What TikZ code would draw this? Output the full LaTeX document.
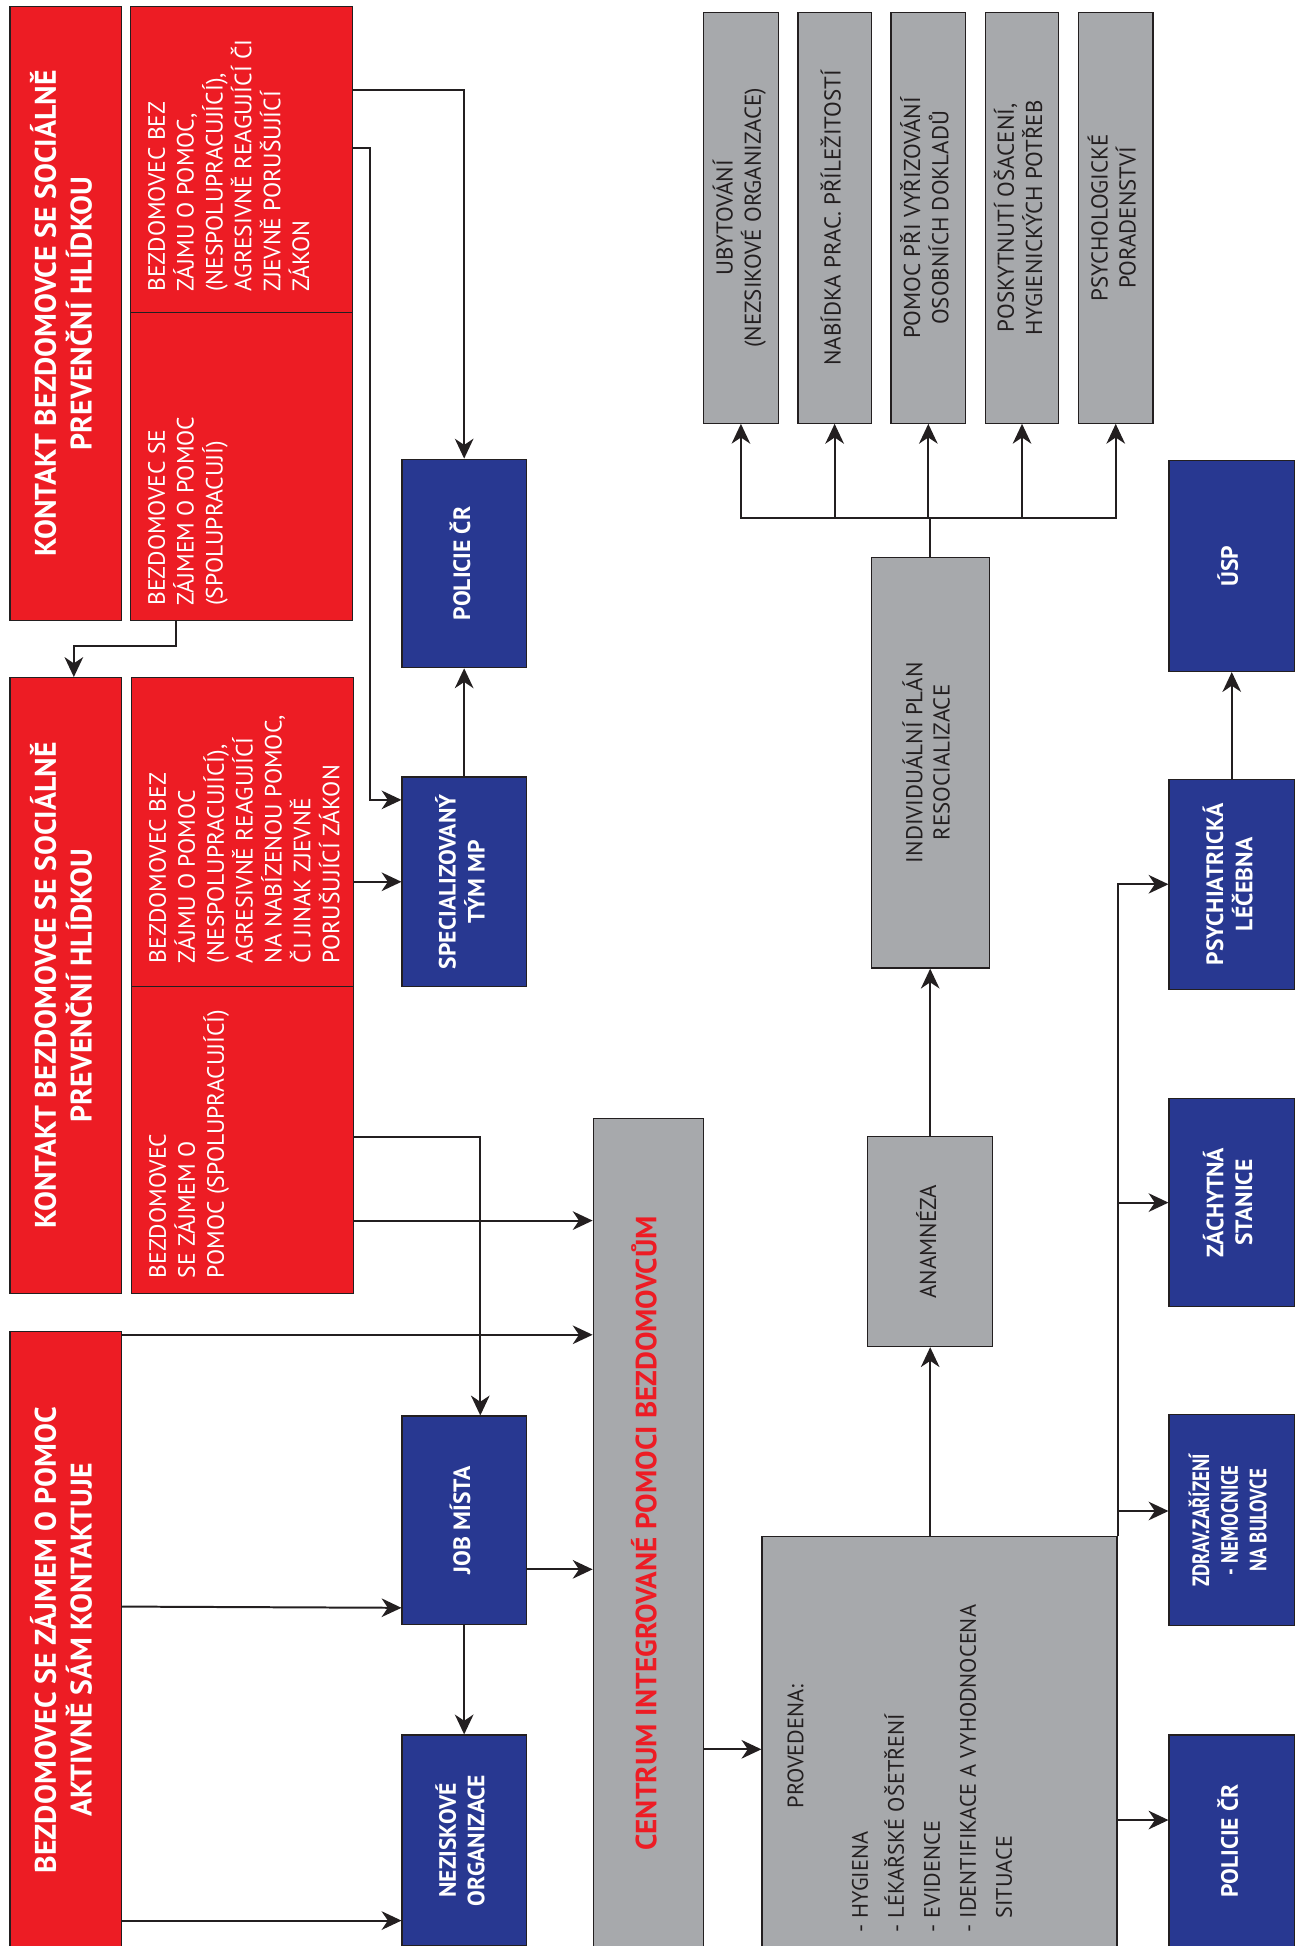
\documentclass[tikz,border=0pt]{standalone}
\usepackage{fontspec}
\setmainfont{PT Sans}
\usepackage{xcolor}
\usepackage{tikz}
\usetikzlibrary{arrows.meta, positioning, calc}

\definecolor{hlred}{HTML}{ED1C24}
\definecolor{mpblue}{HTML}{283891}
\definecolor{boxgrey}{HTML}{A7A9AC}
\definecolor{inkline}{HTML}{231F20}

% text turned to read from bottom to top
\newcommand{\vlines}[1]{\rotatebox{90}{\begin{tabular}{@{}c@{}}#1\end{tabular}}}
\newcommand{\vblock}[3]{\rotatebox{90}{\parbox[c][#2][t]{#1}{\begin{tabular}[t]{@{}l@{}}#3\end{tabular}}}}

\begin{document}
\begin{tikzpicture}[x=1pt, y=-1pt,
    headbox/.style={draw=inkline, line width=1pt, fill=hlred, text=white,
                inner sep=0pt, font=\bfseries\fontsize{24}{26.5}\selectfont},
    casebox/.style={draw=inkline, line width=1pt, fill=hlred, text=white,
                inner sep=0pt, font=\fontsize{19}{22.5}\selectfont},
    unitbox/.style={draw=inkline, line width=1pt, fill=mpblue, text=white,
                inner sep=0pt, font=\bfseries\fontsize{19}{23}\selectfont},
    greybox/.style={draw=inkline, line width=1pt, fill=boxgrey, text=inkline,
                inner sep=0pt, font=\fontsize{18.5}{22}\selectfont},
    arr/.style={-{Stealth[length=16pt, width=15pt, inset=5pt]}, line width=1.6pt, draw=inkline},
    ln/.style={line width=1.6pt, draw=inkline}
  ]
    \useasboundingbox (0,0) rectangle (1044,1568);

    % left column: how the contact starts
    \node[headbox, minimum width=90pt, minimum height=495pt] (a1) at (53,252.5)
      {\vlines{KONTAKT BEZDOMOVCE SE SOCIÁLNĚ\\PREVENČNÍ HLÍDKOU}};
    \node[casebox, minimum width=179pt, minimum height=247pt] (a2up) at (194.5,128.5)
      {\vblock{213pt}{155pt}{BEZDOMOVEC BEZ\\ZÁJMU O POMOC,\\(NESPOLUPRACUJÍCÍ),\\AGRESIVNĚ REAGUJÍCÍ ČI\\ZJEVNĚ PORUŠUJÍCÍ\\ZÁKON}};
    \node[casebox, minimum width=179pt, minimum height=248pt] (a2lo) at (194.5,376)
      {\vblock{224pt}{155pt}{BEZDOMOVEC SE\\ZÁJMEM O POMOC\\(SPOLUPRACUJÍ)}};

    \node[headbox, minimum width=90pt, minimum height=496pt] (b1) at (53,794)
      {\vlines{KONTAKT BEZDOMOVCE SE SOCIÁLNĚ\\PREVENČNÍ HLÍDKOU}};
    \node[casebox, minimum width=179pt, minimum height=249pt] (b2up) at (195.5,670.5)
      {\vblock{211pt}{155pt}{BEZDOMOVEC BEZ\\ZÁJMU O POMOC\\(NESPOLUPRACUJÍCÍ),\\AGRESIVNĚ REAGUJÍCÍ\\NA NABÍZENOU POMOC,\\ČI JINAK ZJEVNĚ\\PORUŠUJÍCÍ ZÁKON}};
    \node[casebox, minimum width=179pt, minimum height=247pt] (b2lo) at (195.5,918.5)
      {\vblock{223pt}{155pt}{BEZDOMOVEC\\SE ZÁJMEM O\\POMOC (SPOLUPRACUJÍCÍ)}};

    \node[headbox, minimum width=90pt, minimum height=497pt] (c1) at (53,1321.5)
      {\vlines{BEZDOMOVEC SE ZÁJMEM O POMOC\\AKTIVNĚ SÁM KONTAKTUJE}};

    % police and city units
    \node[unitbox, minimum width=100pt, minimum height=168pt] (pol1) at (374,454)
      {\vlines{POLICIE ČR}};
    \node[unitbox, minimum width=100pt, minimum height=169pt] (spec) at (374,710.5)
      {\vlines{SPECIALIZOVANÝ\\TÝM MP}};
    \node[unitbox, minimum width=100pt, minimum height=168pt] (job) at (374,1225)
      {\vlines{JOB MÍSTA}};
    \node[unitbox, minimum width=100pt, minimum height=170pt] (nezisk) at (374,1483)
      {\vlines{NEZISKOVÉ\\ORGANIZACE}};

    % the centre and its steps
    \node[greybox, minimum width=89pt, minimum height=669pt, text=hlred,
          font=\bfseries\fontsize{23.5}{26}\selectfont] (centrum) at (522.5,1235.5)
      {\vlines{CENTRUM INTEGROVANÉ POMOCI BEZDOMOVCŮM}};
    \node[greybox, minimum width=286pt, minimum height=332pt,
          font=\fontsize{18}{29}\selectfont] (prov) at (757,1404)
      {\vblock{306pt}{260pt}{\hspace*{100pt}PROVEDENA:\\[23pt]- HYGIENA\\- LÉKAŘSKÉ OŠETŘENÍ\\- EVIDENCE\\- IDENTIFIKACE A VYHODNOCENA\\\phantom{- }SITUACE}};
    \node[greybox, minimum width=101pt, minimum height=169pt] (anam) at (749.5,1000.5)
      {\vlines{ANAMNÉZA}};
    \node[greybox, minimum width=95pt, minimum height=331pt] (indiv) at (749.5,614.5)
      {\vlines{INDIVIDUÁLNÍ PLÁN\\RESOCIALIZACE}};

    \node[greybox, minimum width=60pt, minimum height=331pt] (g1) at (597,175.5)
      {\vlines{UBYTOVÁNÍ\\(NEZSIKOVÉ ORGANIZACE)}};
    \node[greybox, minimum width=59pt, minimum height=331pt] (g2) at (672.5,175.5)
      {\vlines{NABÍDKA PRAC. PŘÍLEŽITOSTÍ}};
    \node[greybox, minimum width=60pt, minimum height=331pt] (g3) at (748,175.5)
      {\vlines{POMOC PŘI VYŘIZOVÁNÍ\\OSOBNÍCH DOKLADŮ}};
    \node[greybox, minimum width=59pt, minimum height=331pt] (g4) at (823.5,175.5)
      {\vlines{POSKYTNUTÍ OŠACENÍ,\\HYGIENICKÝCH POTŘEB}};
    \node[greybox, minimum width=60pt, minimum height=331pt] (g5) at (899,175.5)
      {\vlines{PSYCHOLOGICKÉ\\PORADENSTVÍ}};

    % right column
    \node[unitbox, minimum width=101pt, minimum height=170pt] (usp) at (992.5,456)
      {\vlines{ÚSP}};
    \node[unitbox, minimum width=101pt, minimum height=169pt] (psych) at (992.5,712.5)
      {\vlines{PSYCHIATRICKÁ\\LÉČEBNA}};
    \node[unitbox, minimum width=101pt, minimum height=168pt] (zach) at (992.5,969)
      {\vlines{ZÁCHYTNÁ\\STANICE}};
    \node[unitbox, minimum width=101pt, minimum height=170pt] (zdrav) at (992.5,1225)
      {\rotatebox{90}{\scalebox{0.8}[1]{\begin{tabular}{@{}c@{}}ZDRAV.ZAŘÍZENÍ\\- NEMOCNICE\\NA BULOVCE\end{tabular}}}};
    \node[unitbox, minimum width=101pt, minimum height=171pt] (pol2) at (992.5,1483.5)
      {\vlines{POLICIE ČR}};

    % connectors
    \draw[arr] ($(a2up.north east)+(0,68)$) -| (pol1.north);
    \draw[arr] ($(a2up.north east)+(0,115)$) -- ++(14,0) |- ($(spec.north west)+(0,19)$);
    \draw[arr] (spec.north) -- (pol1.south);
    \draw[arr] ($(a2lo.south west)+(37,0)$) -- ++(0,20) -| ($(b1.north west)+(52,0)$);
    \draw[arr] (b2up.east |- spec.west) -- (spec.west);
    \draw[arr] ($(b2lo.north east)+(0,122)$) -| ($(job.north)+(13,0)$);
    \draw[arr] ($(b2lo.north east)+(0,189)$) -- ($(centrum.north west)+(0,83)$);
    \draw[arr] ($(c1.north east)+(0,3)$) -- ($(centrum.north west)+(0,175)$);
    \draw[arr] ($(c1.north east)+(0,222)$) -- ($(job.south west)+(0,-14)$);
    \draw[arr] ($(c1.north east)+(0,475)$) -- ($(nezisk.north west)+(0,150)$);
    \draw[arr] ($(job.north east)+(0,124)$) -- ($(centrum.north west)+(0,364)$);
    \draw[arr] (job.south) -- (nezisk.north);
    \draw[arr] ($(centrum.north east)+(0,509)$) -- ($(prov.north west)+(0,172)$);
    \draw[arr] (anam.south |- prov.north) -- (anam.south);
    \draw[arr] (anam.north) -- (indiv.south);

    \coordinate (fork) at ($(indiv.north)+(0,-31)$);
    \draw[ln] (indiv.north) -- (fork);
    \draw[arr] (fork) -| (g1.south);
    \draw[arr] (fork) -| (g2.south);
    \draw[arr] (fork) -| (g3.south);
    \draw[arr] (fork) -| (g4.south);
    \draw[arr] (fork) -| (g5.south);

    \draw[arr] (prov.north east) |- (psych.west);
    \draw[arr] (prov.north east |- zach.west) -- (zach.west);
    \draw[arr] ($(prov.north east |- zdrav.north west)+(0,78)$) -- ($(zdrav.north west)+(0,78)$);
    \draw[arr] ($(prov.north east |- pol2.north west)+(0,69)$) -- ($(pol2.north west)+(0,69)$);
    \draw[arr] (psych.north) -- (usp.south);
\end{tikzpicture}
\end{document}
